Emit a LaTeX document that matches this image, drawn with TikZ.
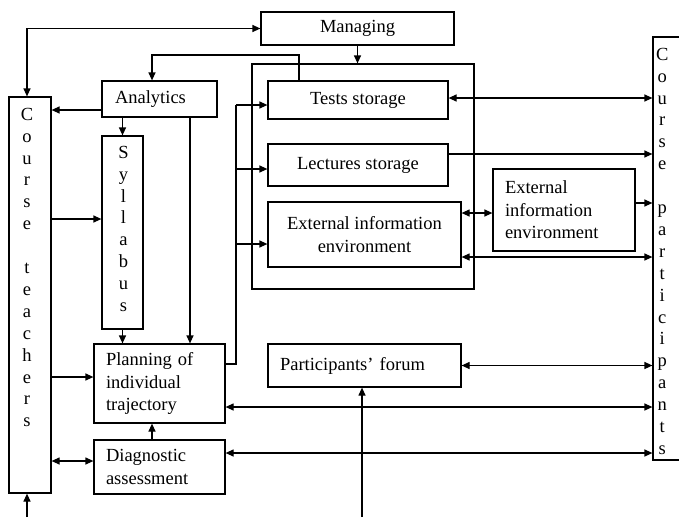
\documentclass[tikz,border=0pt]{standalone}
\usepackage{fontspec}
\setmainfont{Liberation Serif}
\usetikzlibrary{arrows.meta}

\begin{document}
\begin{tikzpicture}[x=1pt, y=-1pt, line width=1.2pt,
  >={Triangle[length=8pt,width=7pt]},
  font=\fontsize{18.5}{22.5}\selectfont,
  box/.style={draw, rectangle, inner sep=0pt, align=center},
  lbox/.style={draw, rectangle, inner xsep=12pt, inner ysep=0pt, align=left},
  vtext/.style={draw=none, align=center, inner sep=0pt, font=\fontsize{18.5}{21.9}\selectfont}]
 \useasboundingbox (0,0) rectangle (679,517);

 \node[box, minimum width=193pt, minimum height=33pt] (managing) at (357.5,28.5) {Managing};
 \node[box, minimum width=222pt, minimum height=225pt] (storage) at (363,176.5) {};
 \node[box, minimum width=180pt, minimum height=38pt] (tests) at (358,100) {Tests storage};
 \node[box, minimum width=180pt, minimum height=42pt] (lectures) at (358,165) {Lectures storage};
 \node[box, minimum width=193pt, minimum height=65pt] (extin) at (364.5,234.5) {External information\\environment};
 \node[lbox, text width=118pt, minimum width=142pt, minimum height=82pt] (extout) at (564,210) {External\\information\\environment};
 \node[box, minimum width=100pt, minimum height=423pt,
   label={[vtext, anchor=north west, xshift=3pt, yshift=-11pt]north west:{C\\o\\u\\r\\s\\e\\~\\p\\a\\r\\t\\i\\c\\i\\p\\a\\n\\t\\s}}] (partic) at (703,248.5) {};
 \node[box, minimum width=42pt, minimum height=396pt,
   label={[vtext, anchor=north, xshift=-3pt, yshift=-11pt]north:{C\\o\\u\\r\\s\\e\\~\\t\\e\\a\\c\\h\\e\\r\\s}}] (teach) at (30,295) {};
 \node[lbox, text width=89pt, minimum width=115pt, minimum height=36pt] (analytics) at (159.5,99) {Analytics};
 \node[box, minimum width=41pt, minimum height=193pt,
   label={[vtext, anchor=north, xshift=1pt, yshift=-10pt]north:{S\\y\\l\\l\\a\\b\\u\\s}}] (syllabus) at (122.5,232.5) {};
 \node[lbox, text width=107pt, minimum width=131pt, minimum height=79pt] (planning) at (159.5,383.5) {Planning of\\individual\\trajectory};
 \node[lbox, text width=107pt, minimum width=131pt, minimum height=54pt] (diag) at (159.5,467) {Diagnostic\\assessment};
 \node[lbox, text width=169pt, minimum width=193pt, minimum height=43pt] (forum) at (364.5,365.5) {Participants’ forum};

 % top loop
 \draw[<->] (managing.west) -| ([xshift=-3pt]teach.north);
 \draw[->] (managing.south) -- (managing.south |- storage.north);
 \coordinate (t1) at (299,55);
 \coordinate (t2) at (152,55);
 \draw[->] (tests.north -| t1) -- (t1) -- (t2) -- (t2 |- analytics.north);

 % left side
 \draw[->] ([yshift=-11pt]analytics.west) coordinate (a1) -- (a1 -| teach.east);
 \draw[->] (analytics.south -| syllabus.north) -- (syllabus.north);
 \draw[->] ([xshift=30.5pt]analytics.south) coordinate (a2) -- (a2 |- planning.north);
 \draw[->] (syllabus.south) -- (syllabus.south |- planning.north);
 \draw[<-] ([yshift=13.5pt]syllabus.west) coordinate (s1) -- (s1 -| teach.east);
 \draw[<-] ([yshift=6.5pt]planning.west) coordinate (p0) -- (p0 -| teach.east);
 \draw[<->] ([yshift=6pt]diag.west) coordinate (d0) -- (d0 -| teach.east);
 \draw[->] ([xshift=-7.5pt]diag.north) coordinate (d1) -- (d1 |- planning.south);

 % planning to storages
 \coordinate (bus) at (236,105);
 \draw ([yshift=19.5pt]planning.east) -| (bus);
 \draw[->] (bus) -- (bus -| tests.west);
 \draw[<-] ([yshift=-4pt]lectures.west) coordinate (l1) -- (l1 -| bus);
 \draw[<-] ([yshift=-9.5pt]extin.west) coordinate (e1) -- (e1 -| bus);

 % course participants
 \draw[<->] ([yshift=2pt]tests.east) coordinate (r1) -- (r1 -| partic.west);
 \draw[->] ([yshift=11pt]lectures.east) coordinate (r2) -- (r2 -| partic.west);
 \draw[<->] ([yshift=21.5pt]extin.east) coordinate (r3) -- (r3 -| extout.west);
 \draw[->] ([yshift=7pt]extout.east) coordinate (r4) -- (r4 -| partic.west);
 \draw[<->] ([yshift=-22.5pt]extin.east) coordinate (r5) -- (r5 -| partic.west);
 \draw[<->] (forum.east) -- (forum.east -| partic.west);
 \draw[<->] ([yshift=-23.5pt]planning.east) coordinate (r6) -- (r6 -| partic.west);
 \draw[<->] ([yshift=14pt]diag.east) coordinate (r7) -- (r7 -| partic.west);

 % inputs from below
 \coordinate (in1) at (362,517);
 \coordinate (in2) at (27,517);
 \draw[->] (in1) -- (in1 |- forum.south);
 \draw[->] (in2) -- (in2 |- teach.south);
\end{tikzpicture}
\end{document}
